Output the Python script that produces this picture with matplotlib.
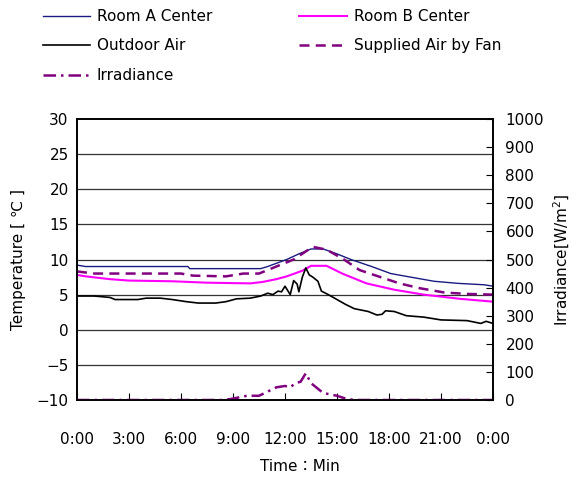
import matplotlib
matplotlib.use('Agg')
import matplotlib.pyplot as plt
from matplotlib.lines import Line2D

plt.rcParams['font.family'] = ['DejaVu Sans', 'Noto Sans CJK KR']

# Series (hours, value)
room_a_t = [0, 0.5, 1.9, 6.4, 6.5, 10.6, 11.0, 12.1, 12.8, 13.5, 14.2, 15.0, 15.8,
            17.0, 18.1, 19.0, 20.6, 22.0, 23.5, 24]
room_a = [9.2, 9.0, 9.0, 9.0, 8.7, 8.7, 9.0, 10.0, 10.8, 11.5, 11.5, 10.8, 10.0,
          9.0, 8.0, 7.6, 6.9, 6.6, 6.4, 6.2]

room_b_t = [0, 0.5, 1.9, 3.0, 5.5, 7.5, 10.0, 10.7, 11.5, 12.1, 13.0, 13.5, 14.4,
            15.3, 16.7, 18.3, 20.0, 22.1, 24]
room_b = [7.8, 7.6, 7.2, 7.0, 6.9, 6.7, 6.6, 6.8, 7.2, 7.6, 8.4, 9.1, 9.1,
          8.0, 6.6, 5.7, 5.0, 4.4, 4.0]

supply_t = [0, 1.0, 6.0, 6.7, 8.6, 9.6, 10.5, 11.5, 12.5, 13.6, 14.4, 15.4, 16.3,
            17.5, 18.6, 19.8, 21.2, 22.5, 24]
supply = [8.3, 8.0, 8.0, 7.7, 7.6, 8.0, 8.0, 9.0, 10.0, 11.8, 11.4, 10.0, 8.5,
          7.5, 6.6, 5.9, 5.3, 5.1, 5.0]

outdoor_t = [0, 1.0, 1.9, 2.2, 3.5, 4.0, 4.8, 5.5, 6.3, 7.0, 8.0, 8.6, 9.2, 10.0,
             10.6, 11.0, 11.3, 11.6, 11.8, 12.0, 12.3, 12.5, 12.7, 12.8, 13.0,
             13.2, 13.4, 13.6, 13.9, 14.1, 14.5, 15.0, 15.5, 16.0, 16.8, 17.3,
             17.6, 17.8, 18.3, 19.0, 20.0, 21.0, 22.5, 23.3, 23.6, 24]
outdoor = [4.8, 4.8, 4.6, 4.3, 4.3, 4.5, 4.5, 4.3, 4.0, 3.8, 3.8, 4.0, 4.4, 4.5,
           4.8, 5.2, 5.0, 5.5, 5.4, 6.2, 5.0, 7.0, 6.5, 5.4, 7.5,
           8.8, 7.8, 7.5, 6.9, 5.5, 5.0, 4.3, 3.6, 3.0, 2.6, 2.1,
           2.2, 2.7, 2.6, 2.0, 1.8, 1.4, 1.3, 0.9, 1.2, 0.9]

irr_t = [0, 8.5, 9.0, 9.8, 10.5, 11.0, 11.5, 12.0, 12.3, 12.6, 12.9, 13.2, 13.5,
         13.8, 14.2, 15.0, 15.5, 16.0, 24]
irr = [0, 0, 5, 15, 15, 30, 45, 50, 45, 60, 65, 95, 60,
       45, 25, 15, 5, 0, 0]

xtick_pos = [0, 3, 6, 9, 12, 15, 18, 21, 24]
xtick_labels = ['0:00', '3:00', '6:00', '9:00', '12:00', '15:00', '18:00', '21:00', '0:00']

navy = '#1a1a80'
magenta = '#ff00ff'
purple = '#800080'
fs = 11

fig = plt.figure(figsize=(5.79, 4.82), dpi=100)
ax = fig.add_axes([77 / 579, 1 - 400 / 482, 416 / 579, 281 / 482])
ax2 = ax.twinx()

ax.plot(room_a_t, room_a, color=navy, lw=1.0)
ax.plot(room_b_t, room_b, color=magenta, lw=1.5)
ax.plot(supply_t, supply, color=purple, lw=1.8, ls=(0, (4, 2.5)))
ax.plot(outdoor_t, outdoor, color='black', lw=1.2)
ax2.plot(irr_t, irr, color=purple, lw=1.8, ls=(0, (5, 2, 1, 2)))

ax.set_xlim(0, 24)
ax.set_ylim(-10, 30)
ax2.set_ylim(0, 1000)
ax.set_yticks(range(-10, 31, 5))
ax2.set_yticks(range(0, 1001, 100))
ax.set_xticks(xtick_pos)
ax.set_xticklabels(xtick_labels)

for y in range(-5, 30, 5):
    ax.axhline(y, color='#333333', lw=0.9, zorder=0)

ax.tick_params(axis='x', direction='in', length=5, pad=23, labelsize=fs)
ax.tick_params(axis='y', direction='in', length=0, pad=6, labelsize=fs)
ax2.tick_params(axis='y', direction='in', length=5, pad=9, labelsize=fs)
for a in (ax, ax2):
    for s in a.spines.values():
        s.set_linewidth(1.2)
        s.set_color('black')

ax.set_ylabel('Temperature [ ℃ ]', fontsize=fs, labelpad=8)
ax2.set_ylabel('Irradiance[W/m$^2$]', fontsize=fs, labelpad=6)
ax.set_xlabel('Time：Min', fontsize=fs)
ax.xaxis.set_label_coords(0.535, -0.21)

handles = [
    Line2D([], [], color=navy, lw=1.0),
    Line2D([], [], color='black', lw=1.2),
    Line2D([], [], color=purple, lw=1.8, ls=(0, (5, 2, 1, 2))),
    Line2D([], [], color=magenta, lw=1.5),
    Line2D([], [], color=purple, lw=1.8, ls=(0, (4, 2.5))),
]
labels = ['Room A Center', 'Outdoor Air', 'Irradiance', 'Room B Center', 'Supplied Air by Fan']
fig.legend(handles, labels, loc='upper left', bbox_to_anchor=(0.05, 1.01), ncol=2,
           frameon=False, fontsize=fs, handlelength=3.1, handletextpad=0.45,
           labelspacing=0.95, columnspacing=5.7)

fig.savefig('out.png', dpi=100)
